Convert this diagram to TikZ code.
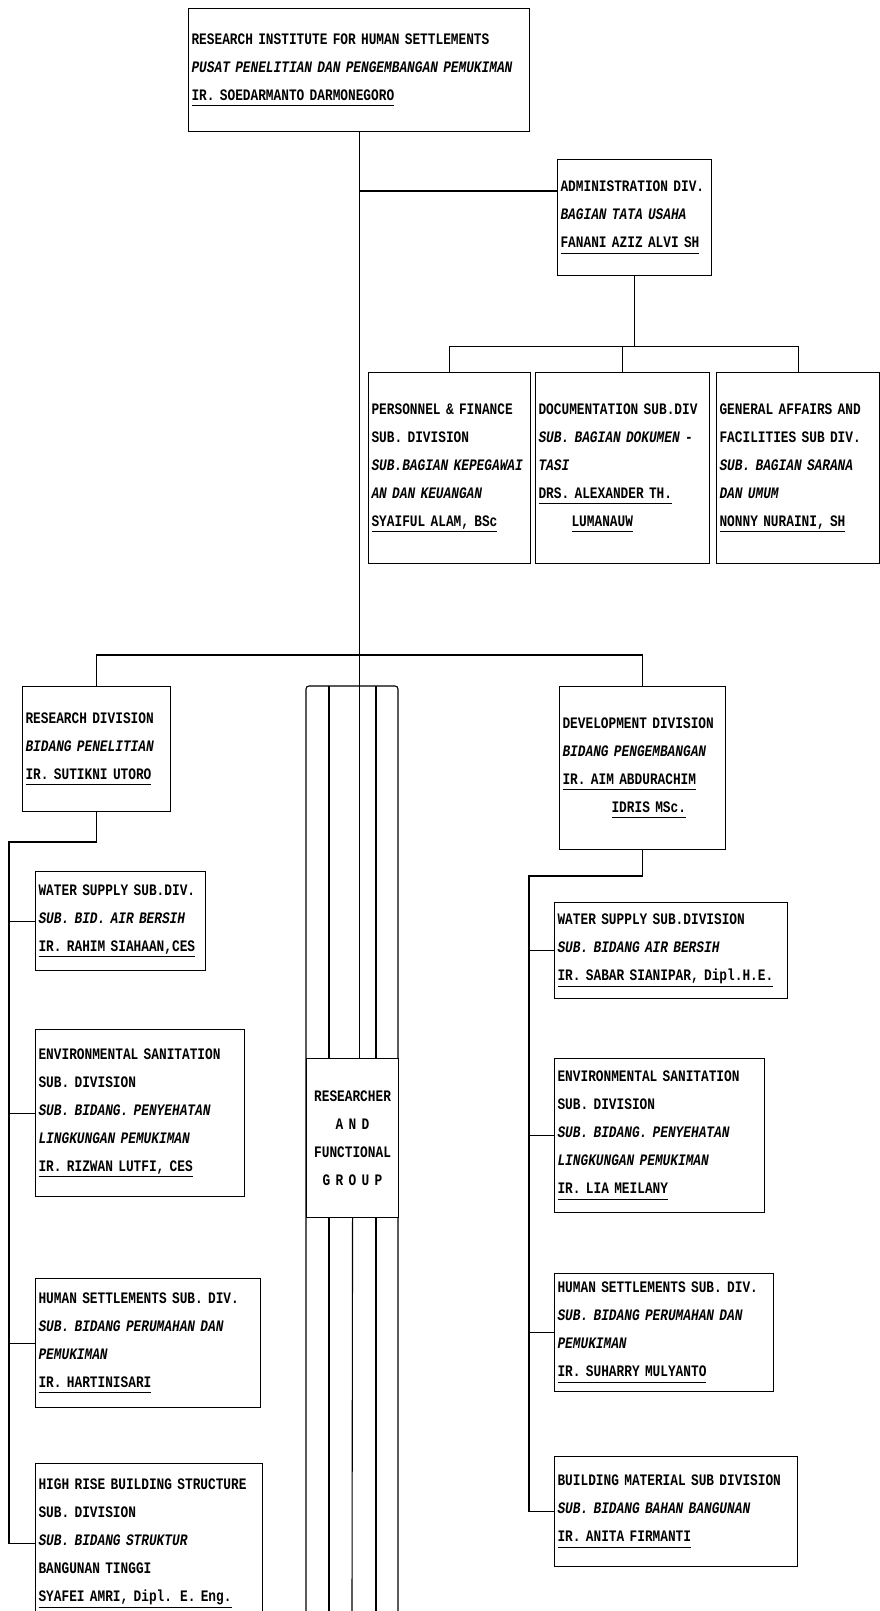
\documentclass[tikz,border=0pt]{standalone}
\usepackage{fontspec}
\newfontfamily\typewr[FakeStretch=0.8]{Liberation Mono}
\tikzset{
  org/.style={x=1pt, y=-1pt, line width=1.1pt,
              every node/.style={font=\typewr\bfseries\fontsize{16}{28}\selectfont}},
  obox/.style={draw, anchor=north west, align=left, inner xsep=3pt, inner ysep=0pt},
  wire/.style={draw, -, line width=1.1pt},
  rfgbox/.style={draw, fill=white, anchor=north west, align=center, inner sep=0pt}
}
\newcommand{\ina}[1]{\textit{#1}}
\newcommand{\pname}[1]{\leavevmode\setbox0\hbox{#1}\rlap{\rule[-6pt]{\wd0}{1.1pt}}\box0}

\begin{document}
\begin{tikzpicture}[org]
\useasboundingbox (0,0) rectangle (880,1611);
% head and administration
\node[obox, text width=335pt, minimum height=123pt] (inst) at (188,8)
  {RESEARCH INSTITUTE FOR HUMAN SETTLEMENTS\\\ina{PUSAT PENELITIAN DAN PENGEMBANGAN PEMUKIMAN}\\\pname{IR. SOEDARMANTO DARMONEGORO}};
\node[obox, text width=148pt, minimum height=116pt] (admin) at (557,159)
  {ADMINISTRATION DIV.\\\ina{BAGIAN TATA USAHA}\\\pname{FANANI AZIZ ALVI SH}};
\node[obox, text width=156pt, minimum height=191pt] (pers) at (368,372)
  {PERSONNEL \& FINANCE\\SUB. DIVISION\\\ina{SUB.BAGIAN KEPEGAWAI}\\\ina{AN DAN KEUANGAN}\\\pname{SYAIFUL ALAM, BSc}};
\node[obox, text width=168pt, minimum height=191pt] (doc) at (535,372)
  {DOCUMENTATION SUB.DIV\\\ina{SUB. BAGIAN DOKUMEN -}\\\ina{TASI}\\\pname{DRS. ALEXANDER TH.}\\\hspace*{33pt}\pname{LUMANAUW}};
\node[obox, text width=157pt, minimum height=191pt] (genaff) at (716,372)
  {GENERAL AFFAIRS AND\\FACILITIES SUB DIV.\\\ina{SUB. BAGIAN SARANA}\\\ina{DAN UMUM}\\\pname{NONNY NURAINI, SH}};
% divisions
\node[obox, text width=142pt, minimum height=125pt] (resdiv) at (22,686)
  {RESEARCH DIVISION\\\ina{BIDANG PENELITIAN}\\\pname{IR. SUTIKNI UTORO}};
\node[obox, text width=160pt, minimum height=163pt] (devdiv) at (559,686)
  {DEVELOPMENT DIVISION\\\ina{BIDANG PENGEMBANGAN}\\\pname{IR. AIM ABDURACHIM}\\\hspace*{49pt}\pname{IDRIS MSc.}};
% research sub divisions
\node[obox, text width=164pt, minimum height=99pt] (lws) at (35,871)
  {WATER SUPPLY SUB.DIV.\\\ina{SUB. BID. AIR BERSIH}\\\pname{IR. RAHIM SIAHAAN,CES}};
\node[obox, text width=203pt, minimum height=167pt] (lenv) at (35,1029)
  {ENVIRONMENTAL SANITATION\\SUB. DIVISION\\\ina{SUB. BIDANG. PENYEHATAN}\\\ina{LINGKUNGAN PEMUKIMAN}\\\pname{IR. RIZWAN LUTFI, CES}};
\node[obox, text width=219pt, minimum height=129pt] (lhs) at (35,1278)
  {HUMAN SETTLEMENTS SUB. DIV.\\\ina{SUB. BIDANG PERUMAHAN DAN}\\\ina{PEMUKIMAN}\\\pname{IR. HARTINISARI}};
\node[obox, text width=221pt, minimum height=160pt] (lhr) at (35,1463)
  {HIGH RISE BUILDING STRUCTURE\\SUB. DIVISION\\\ina{SUB. BIDANG STRUKTUR}\\BANGUNAN TINGGI\\\pname{SYAFEI AMRI, Dipl. E. Eng.}};
% development sub divisions
\node[obox, text width=227pt, minimum height=96pt] (rws) at (554,902)
  {WATER SUPPLY SUB.DIVISION\\\ina{SUB. BIDANG AIR BERSIH}\\\pname{IR. SABAR SIANIPAR, Dipl.H.E.}};
\node[obox, text width=204pt, minimum height=154pt] (renv) at (554,1058)
  {ENVIRONMENTAL SANITATION\\SUB. DIVISION\\\ina{SUB. BIDANG. PENYEHATAN}\\\ina{LINGKUNGAN PEMUKIMAN}\\\pname{IR. LIA MEILANY}};
\node[obox, text width=213pt, minimum height=118pt] (rhs) at (554,1273)
  {HUMAN SETTLEMENTS SUB. DIV.\\\ina{SUB. BIDANG PERUMAHAN DAN}\\\ina{PEMUKIMAN}\\\pname{IR. SUHARRY MULYANTO}};
\node[obox, text width=237pt, minimum height=110pt] (rbm) at (554,1456)
  {BUILDING MATERIAL SUB DIVISION\\\ina{SUB. BIDANG BAHAN BANGUNAN}\\\pname{IR. ANITA FIRMANTI}};
% researcher group
\draw[wire, rounded corners=3pt] (306,1611) -- (306,686) -- (398,686) -- (398,1611);
\node[rfgbox, text width=92pt, minimum height=159pt] (rfg) at (306,1058)
  {RESEARCHER\\A N D\\FUNCTIONAL\\G R O U P};
\foreach \x in {329,376} {
  \draw[wire] (\x,686) -- (\x,1058);
  \draw[wire] (\x,1217) -- (\x,1611);
}
\draw[wire] (rfg.south) -- (352,1611);
% connectors
\draw[wire] (inst.south) -- (inst.south |- rfg.north);
\draw[wire] (admin.north west) ++(0,32) coordinate (ajoin) -- (inst.south |- ajoin);
\draw[wire] (admin.south) -- ++(0,70) coordinate (abar);
\draw[wire] (pers.north) |- (abar) -| (genaff.north);
\draw[wire] (doc.north) -- (doc.north |- abar);
\draw[wire] (resdiv.north) -- ++(0,-31) -| (devdiv.north);
\coordinate (lspine) at (9,842);
\draw[wire] (resdiv.south) |- (lspine) |- (lhr.west);
\foreach \b in {lws,lenv,lhs} \draw[wire] (lspine |- \b.west) -- (\b.west);
\coordinate (rspine) at (529,876);
\draw[wire] (devdiv.south) |- (rspine) |- (rbm.west);
\foreach \b in {rws,renv,rhs} \draw[wire] (rspine |- \b.west) -- (\b.west);
\end{tikzpicture}
\end{document}
